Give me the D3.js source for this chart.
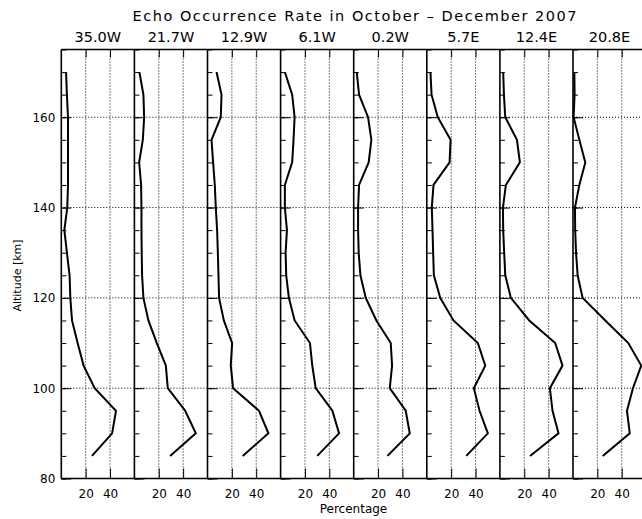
<!DOCTYPE html>
<html>
<head>
<meta charset="utf-8">
<script src="https://cdn.jsdelivr.net/npm/d3@7"></script>
<style>
  body { margin: 0; background: #fff; }
  svg { display: block; font-family: 'DejaVu Sans', sans-serif; }
  .grid line { stroke: #000; stroke-width: 1; stroke-dasharray: 1,2; }
</style>
</head>
<body>
<svg width="642" height="519"></svg>
<script>
const svg = d3.select('svg');

// altitude levels [km], bottom to top
const altitudes = [85, 90, 95, 100, 105, 110, 115, 120, 125, 130, 135, 140, 145, 150, 155, 160, 165, 170];
const longitudes = ['35.0W', '21.7W', '12.9W', '6.1W', '0.2W', '5.7E', '12.4E', '20.8E'];

// echo occurrence rate [%] at each altitude, one array per longitude
const rate35_0W = [25.2, 41.7, 44.9, 27.4, 18.3, 13.4, 8.8, 7.4, 6.8, 4.6, 2.5, 4.9, 5.5, 5.5, 5.5, 5.5, 4.6, 3.9];
const rate21_7W = [29.3, 50.4, 41.7, 27.4, 25.8, 18.4, 11.5, 7.4, 6.3, 6.0, 5.8, 5.8, 5.5, 3.9, 6.9, 8.0, 7.4, 4.1];
const rate12_9W = [28.9, 50.0, 42.3, 21.0, 19.1, 20.2, 13.4, 9.5, 9.0, 8.5, 7.9, 6.8, 6.0, 4.6, 3.3, 10.9, 11.5, 7.4];
const rate6_1W  = [30.1, 48.0, 42.5, 28.8, 26.0, 24.1, 11.5, 6.8, 4.6, 4.1, 5.2, 3.5, 3.5, 9.5, 10.6, 11.5, 9.5, 3.5];
const rate0_2W  = [27.7, 46.0, 42.7, 29.6, 31.5, 30.4, 18.6, 9.9, 5.5, 4.1, 3.6, 3.6, 4.4, 12.3, 14.5, 11.8, 4.4, 2.5];
const rate5_7E  = [32.4, 50.1, 43.3, 38.6, 48.0, 41.9, 21.9, 11.0, 5.8, 5.2, 4.7, 4.1, 5.5, 18.7, 19.5, 9.0, 3.9, 3.0];
const rate12_4E = [24.7, 48.1, 43.2, 41.0, 51.4, 45.4, 24.1, 9.0, 4.4, 3.5, 2.7, 2.5, 4.9, 16.4, 14.0, 4.4, 3.3, 2.7];
const rate20_8E = [24.4, 46.6, 44.3, 49.2, 56.0, 45.4, 26.5, 7.9, 3.8, 2.5, 1.8, 1.6, 5.2, 10.1, 5.2, 0.5, 1.3, 1.1];

const series = [rate35_0W, rate21_7W, rate12_9W, rate6_1W, rate0_2W, rate5_7E, rate12_4E, rate20_8E];

const yTicks = [80, 100, 120, 140, 160];
const xTicks = [20, 40];

const plotLeft = 61.3, panelW = 73.1, plotTop = 49.5, plotBottom = 478.5;

const panelScale = d3.scaleBand()
  .domain(longitudes)
  .range([plotLeft, plotLeft + panelW * longitudes.length])
  .paddingInner(0);

const xScale = d3.scaleLinear().domain([0, 60]).range([0, panelScale.bandwidth()]);
const yScale = d3.scaleLinear().domain([80, 175]).range([plotBottom, plotTop]);

// title
svg.append('text')
  .attr('x', 354.5).attr('y', 20.5)
  .attr('text-anchor', 'middle')
  .attr('font-size', 14.5)
  .attr('textLength', 444)
  .text('Echo Occurrence Rate in October \u2013 December 2007');

const line = d3.line()
  .x(d => xScale(d[1]))
  .y(d => yScale(d[0]));

longitudes.forEach((lon, i) => {
  const g = svg.append('g')
    .attr('transform', `translate(${panelScale(lon)},0)`);

  g.append('text')
    .attr('x', panelScale.bandwidth() / 2)
    .attr('y', 41.7)
    .attr('text-anchor', 'middle')
    .attr('font-size', 14.5)
    .text(lon);

  // dotted grid
  const grid = g.append('g').attr('class', 'grid');
  grid.selectAll('.hg').data(yTicks.slice(1)).enter().append('line')
    .attr('x1', 0).attr('x2', panelScale.bandwidth())
    .attr('y1', d => yScale(d)).attr('y2', d => yScale(d));
  grid.selectAll('.vg').data(xTicks).enter().append('line')
    .attr('x1', d => xScale(d)).attr('x2', d => xScale(d))
    .attr('y1', plotTop).attr('y2', plotBottom);

  // minor and major ticks on the left edge of each panel
  g.append('g')
    .call(d3.axisRight(yScale).tickValues(d3.range(80, 176, 5)).tickSize(5).tickFormat(''))
    .call(a => a.select('.domain').remove());
  g.append('g')
    .call(d3.axisRight(yScale).tickValues(yTicks).tickSize(10).tickFormat(''))
    .call(a => a.select('.domain').remove());

  // bottom ticks with labels
  g.append('g')
    .attr('transform', `translate(0,${plotBottom})`)
    .call(d3.axisBottom(xScale).tickValues(xTicks).tickSize(-10).tickPadding(11))
    .call(a => a.select('.domain').remove())
    .call(a => a.selectAll('text').attr('font-size', 12).attr('font-family', 'DejaVu Sans'));

  // top ticks
  g.append('g')
    .attr('transform', `translate(0,${plotTop})`)
    .call(d3.axisTop(xScale).tickValues(xTicks).tickSize(-8).tickFormat(''))
    .call(a => a.select('.domain').remove());

  // panel left edge
  g.append('line')
    .attr('x1', 0).attr('x2', 0)
    .attr('y1', plotTop).attr('y2', plotBottom)
    .attr('stroke', '#000').attr('stroke-width', 1.6);

  g.append('path')
    .datum(altitudes.map((a, k) => [a, series[i][k]]))
    .attr('fill', 'none')
    .attr('stroke', '#000')
    .attr('stroke-width', 2)
    .attr('stroke-linejoin', 'miter')
    .attr('d', line);
});

// frame top / bottom
[plotTop, plotBottom].forEach(yy => {
  svg.append('line')
    .attr('x1', plotLeft).attr('x2', plotLeft + panelW * longitudes.length)
    .attr('y1', yy).attr('y2', yy)
    .attr('stroke', '#000').attr('stroke-width', 1.6);
});

// left altitude labels
svg.append('g')
  .attr('transform', `translate(${plotLeft},0)`)
  .call(d3.axisLeft(yScale).tickValues(yTicks).tickSize(0).tickPadding(6))
  .call(a => a.select('.domain').remove())
  .call(a => a.selectAll('text').attr('font-size', 12).attr('font-family', 'DejaVu Sans'));

svg.append('text')
  .attr('transform', 'translate(21,275.5) rotate(-90)')
  .attr('text-anchor', 'middle')
  .attr('font-size', 11)
  .text('Altitude [km]');

svg.append('text')
  .attr('x', 353.5).attr('y', 513)
  .attr('text-anchor', 'middle')
  .attr('font-size', 12)
  .text('Percentage');
</script>
</body>
</html>
